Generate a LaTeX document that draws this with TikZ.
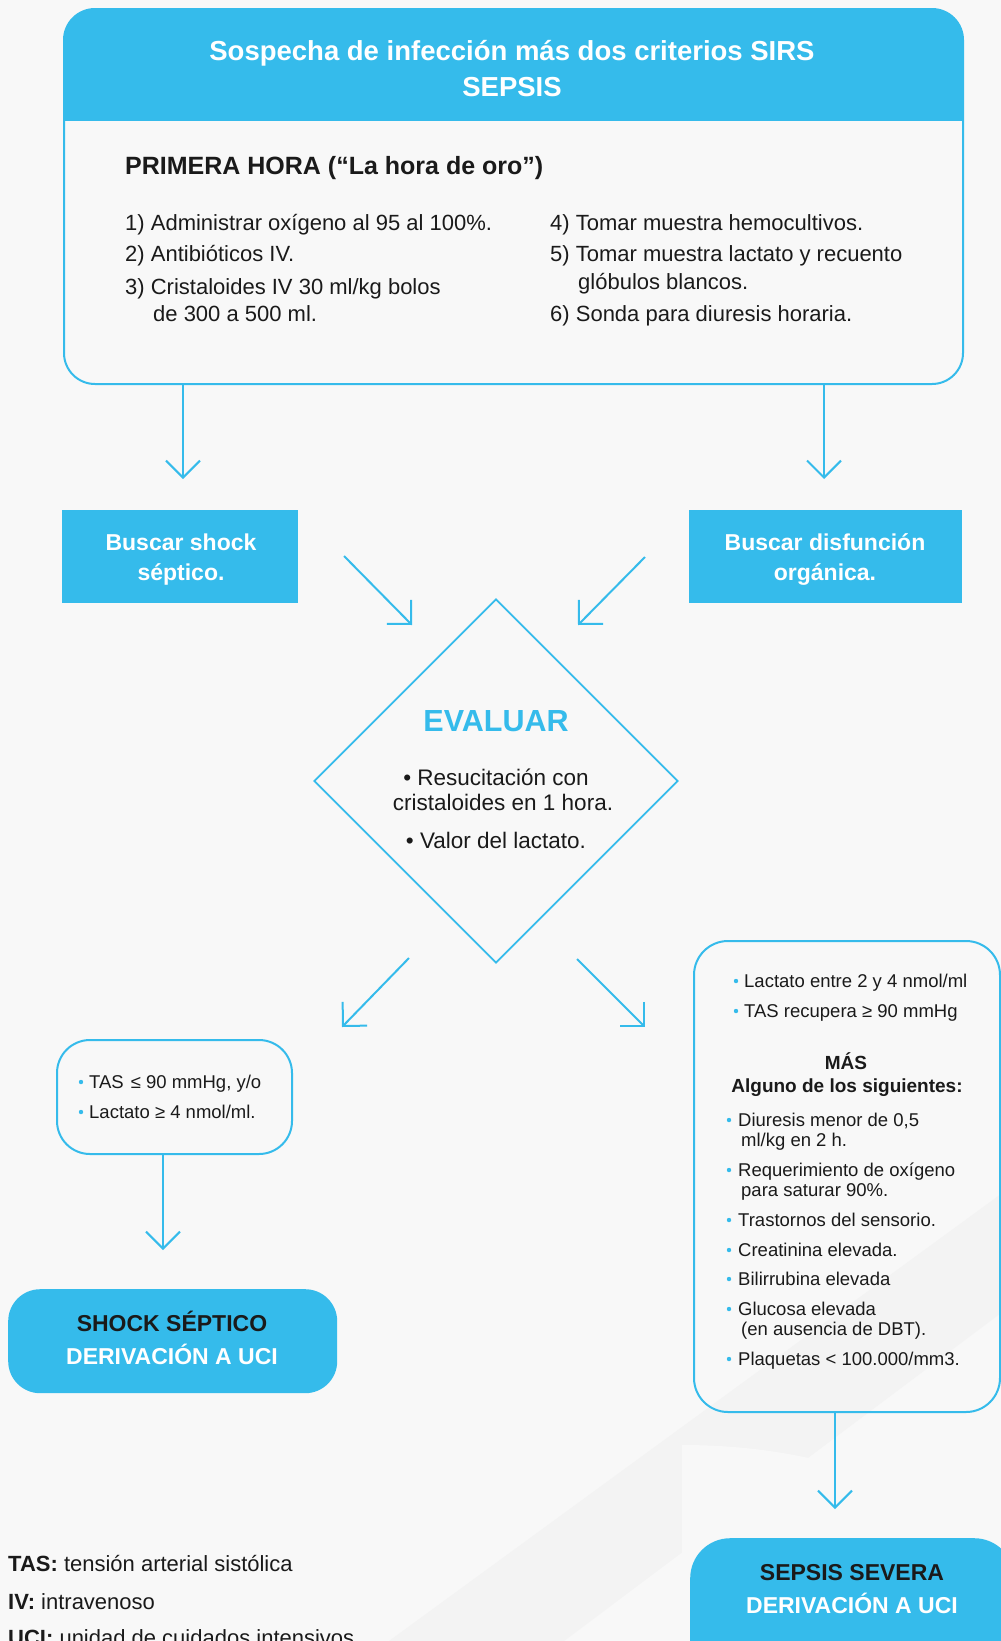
\documentclass[tikz,border=0pt]{standalone}
\usepackage{fontspec}
\setmainfont{Liberation Sans}
\usetikzlibrary{arrows.meta,shapes.geometric}
\definecolor{skyb}{RGB}{53,187,235}
\definecolor{bgc}{RGB}{248,248,248}
\definecolor{wmk}{RGB}{243,243,243}
\definecolor{txt}{RGB}{26,26,26}
\begin{document}
\begin{tikzpicture}[x=1pt,y=-1pt,
  body/.style={text=txt, font=\fontsize{22}{26}\selectfont, anchor=base west, inner sep=0pt},
  small/.style={text=txt, font=\fontsize{18.5}{22}\selectfont, anchor=base west, inner sep=0pt},
  smallbold/.style={text=txt, font=\bfseries\fontsize{19}{23}\selectfont, anchor=base, inner sep=0pt},
  whitehead/.style={text=white, font=\bfseries\fontsize{23}{28}\selectfont, anchor=base, inner sep=0pt},
  blackhead/.style={text=txt, font=\bfseries\fontsize{23}{28}\selectfont, anchor=base, inner sep=0pt},
  dtext/.style={text=txt, font=\fontsize{22.5}{27}\selectfont, anchor=base, inner sep=0pt},
  outbox/.style={draw=skyb, line width=2pt, anchor=north west, inner sep=0pt},
  fillbox/.style={fill=skyb, anchor=north west, inner sep=0pt},
  arr/.style={draw=skyb, line width=2pt, -{Straight Barb[length=17pt,width=34pt]}},
  bul/.style={fill=skyb}
]
\path[use as bounding box, fill=bgc] (0,0) rectangle (1001,1641);
% faint watermark
\fill[wmk] (389,1641) -- (1001,1194) -- (1001,1313) -- (564,1641) -- cycle;
\fill[bgc] (682,1641) -- (682,1445) .. controls (800,1445) and (900,1475) .. (1001,1540) -- (1001,1641) -- cycle;

% top box
\node[outbox, rounded corners=31pt, minimum width=899pt, minimum height=375pt,
  path picture={\fill[skyb, sharp corners] ([yshift=3pt]path picture bounding box.north west) rectangle ([yshift=-112pt]path picture bounding box.north east);}] (top) at (63,8) {};
\node[text=white, font=\bfseries\fontsize{27.5}{33}\selectfont, anchor=base, inner sep=0pt] (t1) at (512,60) {Sospecha de infección más dos criterios SIRS};
\node[text=white, font=\bfseries\fontsize{27.5}{33}\selectfont, anchor=base, inner sep=0pt] (t2) at (512,96) {SEPSIS};
\node[text=txt, font=\bfseries\fontsize{25}{30}\selectfont, anchor=base west, inner sep=0pt] (ph) at (125,174) {PRIMERA HORA (“La hora de oro”)};
\node[body] (i1) at (125,230) {1) Administrar oxígeno al 95 al 100\%.};
\node[body] (i2) at (125,261) {2) Antibióticos IV.};
\node[body] (i3) at (125,294) {3) Cristaloides IV 30 ml/kg bolos};
\node[body] (i3b) at (153,321) {de 300 a 500 ml.};
\node[body] (i4) at (550,230) {4) Tomar muestra hemocultivos.};
\node[body] (i5) at (550,261) {5) Tomar muestra lactato y recuento};
\node[body] (i5b) at (578,289) {glóbulos blancos.};
\node[body] (i6) at (550,321) {6) Sonda para diuresis horaria.};

% arrows from top box
\coordinate (a1) at (183,479);
\coordinate (a2) at (824,479);
\draw[arr] (a1 |- top.south) -- (a1);
\draw[arr] (a2 |- top.south) -- (a2);

% buscar boxes
\node[fillbox, minimum width=236pt, minimum height=93pt] (bs) at (62,510) {};
\node[whitehead] (bs1) at (181,550) {Buscar shock};
\node[whitehead] (bs2) at (181,580) {séptico.};
\node[fillbox, minimum width=273pt, minimum height=93pt] (bd) at (689,510) {};
\node[whitehead] (bd1) at (825,550) {Buscar disfunción};
\node[whitehead] (bd2) at (825,580) {orgánica.};

% diagonal arrows to diamond
\coordinate (d1s) at (344,556); \coordinate (d1e) at (412,625);
\coordinate (d2s) at (645,557); \coordinate (d2e) at (578,625);
\draw[arr] (d1s) -- (d1e);
\draw[arr] (d2s) -- (d2e);

% diamond
\node[diamond, draw=skyb, line width=1.8pt, minimum width=364pt, minimum height=364pt, inner sep=0pt] (eval) at (496,781) {};
\node[text=skyb, font=\bfseries\fontsize{30.5}{36}\selectfont, anchor=base, inner sep=0pt] (ev) at (496,731) {EVALUAR};
\node[dtext] (e1) at (496,785) {• Resucitación con};
\node[dtext] (e2) at (503,810) {cristaloides en 1 hora.};
\node[dtext] (e3) at (496,848) {• Valor del lactato.};

% lower diagonal arrows
\coordinate (d3s) at (409,958); \coordinate (d3e) at (342,1027);
\coordinate (d4s) at (577,959); \coordinate (d4e) at (645,1027);
\draw[arr] (d3s) -- (d3e);
\draw[arr] (d4s) -- (d4e);

% left small box
\node[outbox, rounded corners=33pt, minimum width=235pt, minimum height=114pt] (lbox) at (56,1039) {};
\fill[bul] (81,1082) circle (2.2pt);
\node[small] (l1) at (89,1088.5) {TAS\hspace{7pt}≤ 90 mmHg, y/o};
\fill[bul] (81,1112) circle (2.2pt);
\node[small] (l2) at (89,1118.5) {Lactato ≥ 4 nmol/ml.};
\coordinate (a3) at (163,1250);
\draw[arr] (a3 |- lbox.south) -- (a3);

% shock box
\node[fillbox, rounded corners=32pt, minimum width=329pt, minimum height=104pt] (shock) at (8,1289) {};
\node[blackhead] (sh1) at (172,1331) {SHOCK SÉPTICO};
\node[whitehead] (sh2) at (172,1364) {DERIVACIÓN A UCI};

% right box
\node[outbox, rounded corners=34pt, minimum width=306pt, minimum height=471pt] (rbox) at (693,940) {};
\fill[bul] (736,981) circle (2.2pt);
\node[small] (r1) at (744,987.5) {Lactato entre 2 y 4 nmol/ml};
\fill[bul] (736,1011) circle (2.2pt);
\node[small] (r2) at (744,1017.5) {TAS recupera ≥ 90 mmHg};
\node[smallbold] (mas) at (846,1069) {MÁS};
\node[smallbold] (alg) at (847,1092) {Alguno de los siguientes:};
\fill[bul] (729,1120) circle (2.2pt);
\node[small] (r3) at (738,1126.5) {Diuresis menor de 0,5};
\node[small] (r3b) at (741,1146.5) {ml/kg en 2 h.};
\fill[bul] (729,1170) circle (2.2pt);
\node[small] (r4) at (738,1176.5) {Requerimiento de oxígeno};
\node[small] (r4b) at (741,1196.5) {para saturar 90\%.};
\fill[bul] (729,1220) circle (2.2pt);
\node[small] (r5) at (738,1226.5) {Trastornos del sensorio.};
\fill[bul] (729,1250) circle (2.2pt);
\node[small] (r6) at (738,1256.5) {Creatinina elevada.};
\fill[bul] (729,1279) circle (2.2pt);
\node[small] (r7) at (738,1285.5) {Bilirrubina elevada};
\fill[bul] (729,1309) circle (2.2pt);
\node[small] (r8) at (738,1315) {Glucosa elevada};
\node[small] (r8b) at (741,1335) {(en ausencia de DBT).};
\fill[bul] (729,1359) circle (2.2pt);
\node[small] (r9) at (738,1365) {Plaquetas < 100.000/mm3.};
\coordinate (a4) at (835,1509);
\draw[arr] (a4 |- rbox.south) -- (a4);

% sepsis severa box
\node[fillbox, rounded corners=40pt, minimum width=324pt, minimum height=150pt] (sev) at (690,1538) {};
\node[blackhead] (sv1) at (852,1580) {SEPSIS SEVERA};
\node[whitehead] (sv2) at (852,1613) {DERIVACIÓN A UCI};

% legend
\node[text=txt, font=\fontsize{22}{26}\selectfont, anchor=base west, inner sep=0pt] (lg1) at (8,1571) {\textbf{TAS:} tensión arterial sistólica};
\node[text=txt, font=\fontsize{22}{26}\selectfont, anchor=base west, inner sep=0pt] (lg2) at (8,1609) {\textbf{IV:} intravenoso};
\node[text=txt, font=\fontsize{22}{26}\selectfont, anchor=base west, inner sep=0pt] (lg3) at (8,1645) {\textbf{UCI:} unidad de cuidados intensivos};
\end{tikzpicture}
\end{document}
